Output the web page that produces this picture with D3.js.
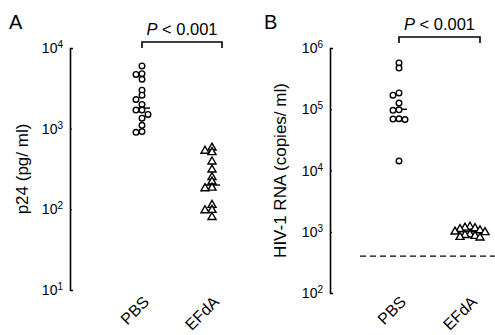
<!DOCTYPE html>
<meta charset="utf-8">
<style>
body { margin: 0; background: #fff; }
svg { font-family: "Liberation Sans", Arial, sans-serif; }
</style>
<svg width="495" height="335"></svg>
<script src="https://d3js.org/d3.v7.min.js"></script>
<script>
// values
var groups = ["PBS", "EFdA"];
var p24PBS = [6000, 4800, 4700, 4100, 3000, 2600, 2300, 2000, 1700, 1700, 1500, 1350, 1100, 920, 900];
var p24EFdA = [580, 530, 510, 390, 310, 250, 220, 185, 182, 113, 98, 97, 80];
var p24Median = [1800, 200];
var rnaPBS = [570000, 470000, 185000, 170000, 126000, 98000, 96000, 70000, 69000, 68000, 14300];
var rnaEFdA = [1200, 1160, 1140, 1100, 1050, 1000, 980, 900, 880, 850, 820, 800];
var rnaMedian = [100000, 1000];
var rnaLimit = 400;
var p24Ticks = [10, 100, 1000, 10000];
var rnaTicks = [100, 1000, 10000, 100000, 1000000];

var svg = d3.select("svg");

function dodge(vals, y, step, gap) {
  // spread points sideways when they sit on top of each other
  var placed = [];
  return vals.map(v => {
    var yy = y(v);
    var slots = [0, -1, 1, -2, 2, -3, 3, -4, 4];
    for (var k = 0; k < slots.length; k++) {
      var dx = slots[k] * step;
      var hit = placed.some(p => Math.abs(p.dx - dx) < step - 0.5 && Math.abs(p.y - yy) < gap);
      if (!hit) { placed.push({dx: dx, y: yy}); return {v: v, dx: dx}; }
    }
    placed.push({dx: 0, y: yy});
    return {v: v, dx: 0};
  });
}

function panel(opt) {
  var g = svg.append("g");
  var y = d3.scaleLog().domain(opt.domain).range(opt.yRange);
  var x = d3.scalePoint().domain(groups).range(opt.xRange);

  g.append("text").attr("x", opt.letterX).attr("y", 29)
    .attr("font-size", 20).text(opt.letter);

  var axis = d3.axisLeft(y).tickValues(opt.ticks).tickFormat("")
    .tickSizeInner(-2).tickSizeOuter(-3);
  var ax = g.append("g").attr("transform", "translate(" + opt.axisX + ",0)").call(axis);
  ax.select(".domain").attr("stroke-width", 1.6);
  ax.selectAll(".tick line").attr("stroke-width", 1);

  var tl = g.append("g").selectAll("text").data(opt.ticks).enter().append("text")
    .attr("x", opt.axisX - 7).attr("y", d => y(d) + 5)
    .attr("text-anchor", "end").attr("font-size", 14);
  tl.append("tspan").text("10");
  tl.append("tspan").attr("font-size", 10).attr("dy", -5).text(d => Math.round(Math.log10(d)));

  g.append("text")
    .attr("transform", "translate(" + opt.titleX + "," + (opt.yRange[0] + opt.yRange[1]) / 2 + ") rotate(-90)")
    .attr("text-anchor", "middle").attr("font-size", 17).text(opt.title);

  g.selectAll(".xl").data(groups).enter().append("text")
    .attr("transform", d => "translate(" + (x(d) + 8) + ",303) rotate(-45)")
    .attr("text-anchor", "end").attr("font-size", 16).text(d => d);

  // significance bracket
  var bx0 = opt.xRange[0], bx1 = opt.xRange[1] + opt.bracketExtra;
  g.append("path")
    .attr("d", "M" + bx0 + "," + (opt.bracketY + 6) + "V" + opt.bracketY + "H" + bx1 + "V" + (opt.bracketY + 6))
    .attr("fill", "none").attr("stroke", "#000").attr("stroke-width", 1.6);
  var pt = g.append("text").attr("x", (bx0 + bx1) / 2).attr("y", opt.bracketY - 7)
    .attr("text-anchor", "middle").attr("font-size", 16.5);
  pt.append("tspan").attr("font-style", "italic").text("P");
  pt.append("tspan").text(" < 0.001");

  if (opt.limit) {
    g.append("line").attr("x1", opt.axisX + 30).attr("x2", 495)
      .attr("y1", y(opt.limit)).attr("y2", y(opt.limit))
      .attr("stroke", "#000").attr("stroke-width", 1.4).attr("stroke-dasharray", "6,4");
  }

  // medians
  g.selectAll(".med").data(opt.medians).enter().append("line")
    .attr("x1", (d, i) => x(groups[i]) - 8).attr("x2", (d, i) => x(groups[i]) + 8)
    .attr("y1", d => y(d)).attr("y2", d => y(d))
    .attr("stroke", "#000").attr("stroke-width", 1.4);

  g.selectAll(".c").data(dodge(opt.a, y, 6, 4.5)).enter().append("circle")
    .attr("cx", d => x("PBS") + d.dx).attr("cy", d => y(d.v)).attr("r", 2.8)
    .attr("fill", "#fff").attr("stroke", "#000").attr("stroke-width", 1.4);

  var tri = d3.symbol().type(d3.symbolTriangle).size(28);
  g.selectAll(".t").data(dodge(opt.b, y, opt.triStep, opt.triGap)).enter().append("path")
    .attr("d", tri)
    .attr("transform", d => "translate(" + (x("EFdA") + d.dx) + "," + y(d.v) + ")")
    .attr("fill", "#fff").attr("stroke", "#000").attr("stroke-width", 1.4);
}

panel({
  letter: "A", letterX: 9, domain: [10, 10000], yRange: [290, 48], xRange: [142, 212],
  axisX: 70, ticks: p24Ticks, title: "p24 (pg/ ml)", titleX: 28,
  bracketY: 42, bracketExtra: 10, a: p24PBS, b: p24EFdA, medians: p24Median,
  triStep: 7, triGap: 3.5
});

panel({
  letter: "B", letterX: 264, domain: [100, 1000000], yRange: [293, 48], xRange: [399, 470],
  axisX: 330, ticks: rnaTicks, title: "HIV-1 RNA (copies/ ml)", titleX: 286,
  bracketY: 37, bracketExtra: 10, a: rnaPBS, b: rnaEFdA, medians: rnaMedian,
  triStep: 5, triGap: 6, limit: rnaLimit
});
</script>
